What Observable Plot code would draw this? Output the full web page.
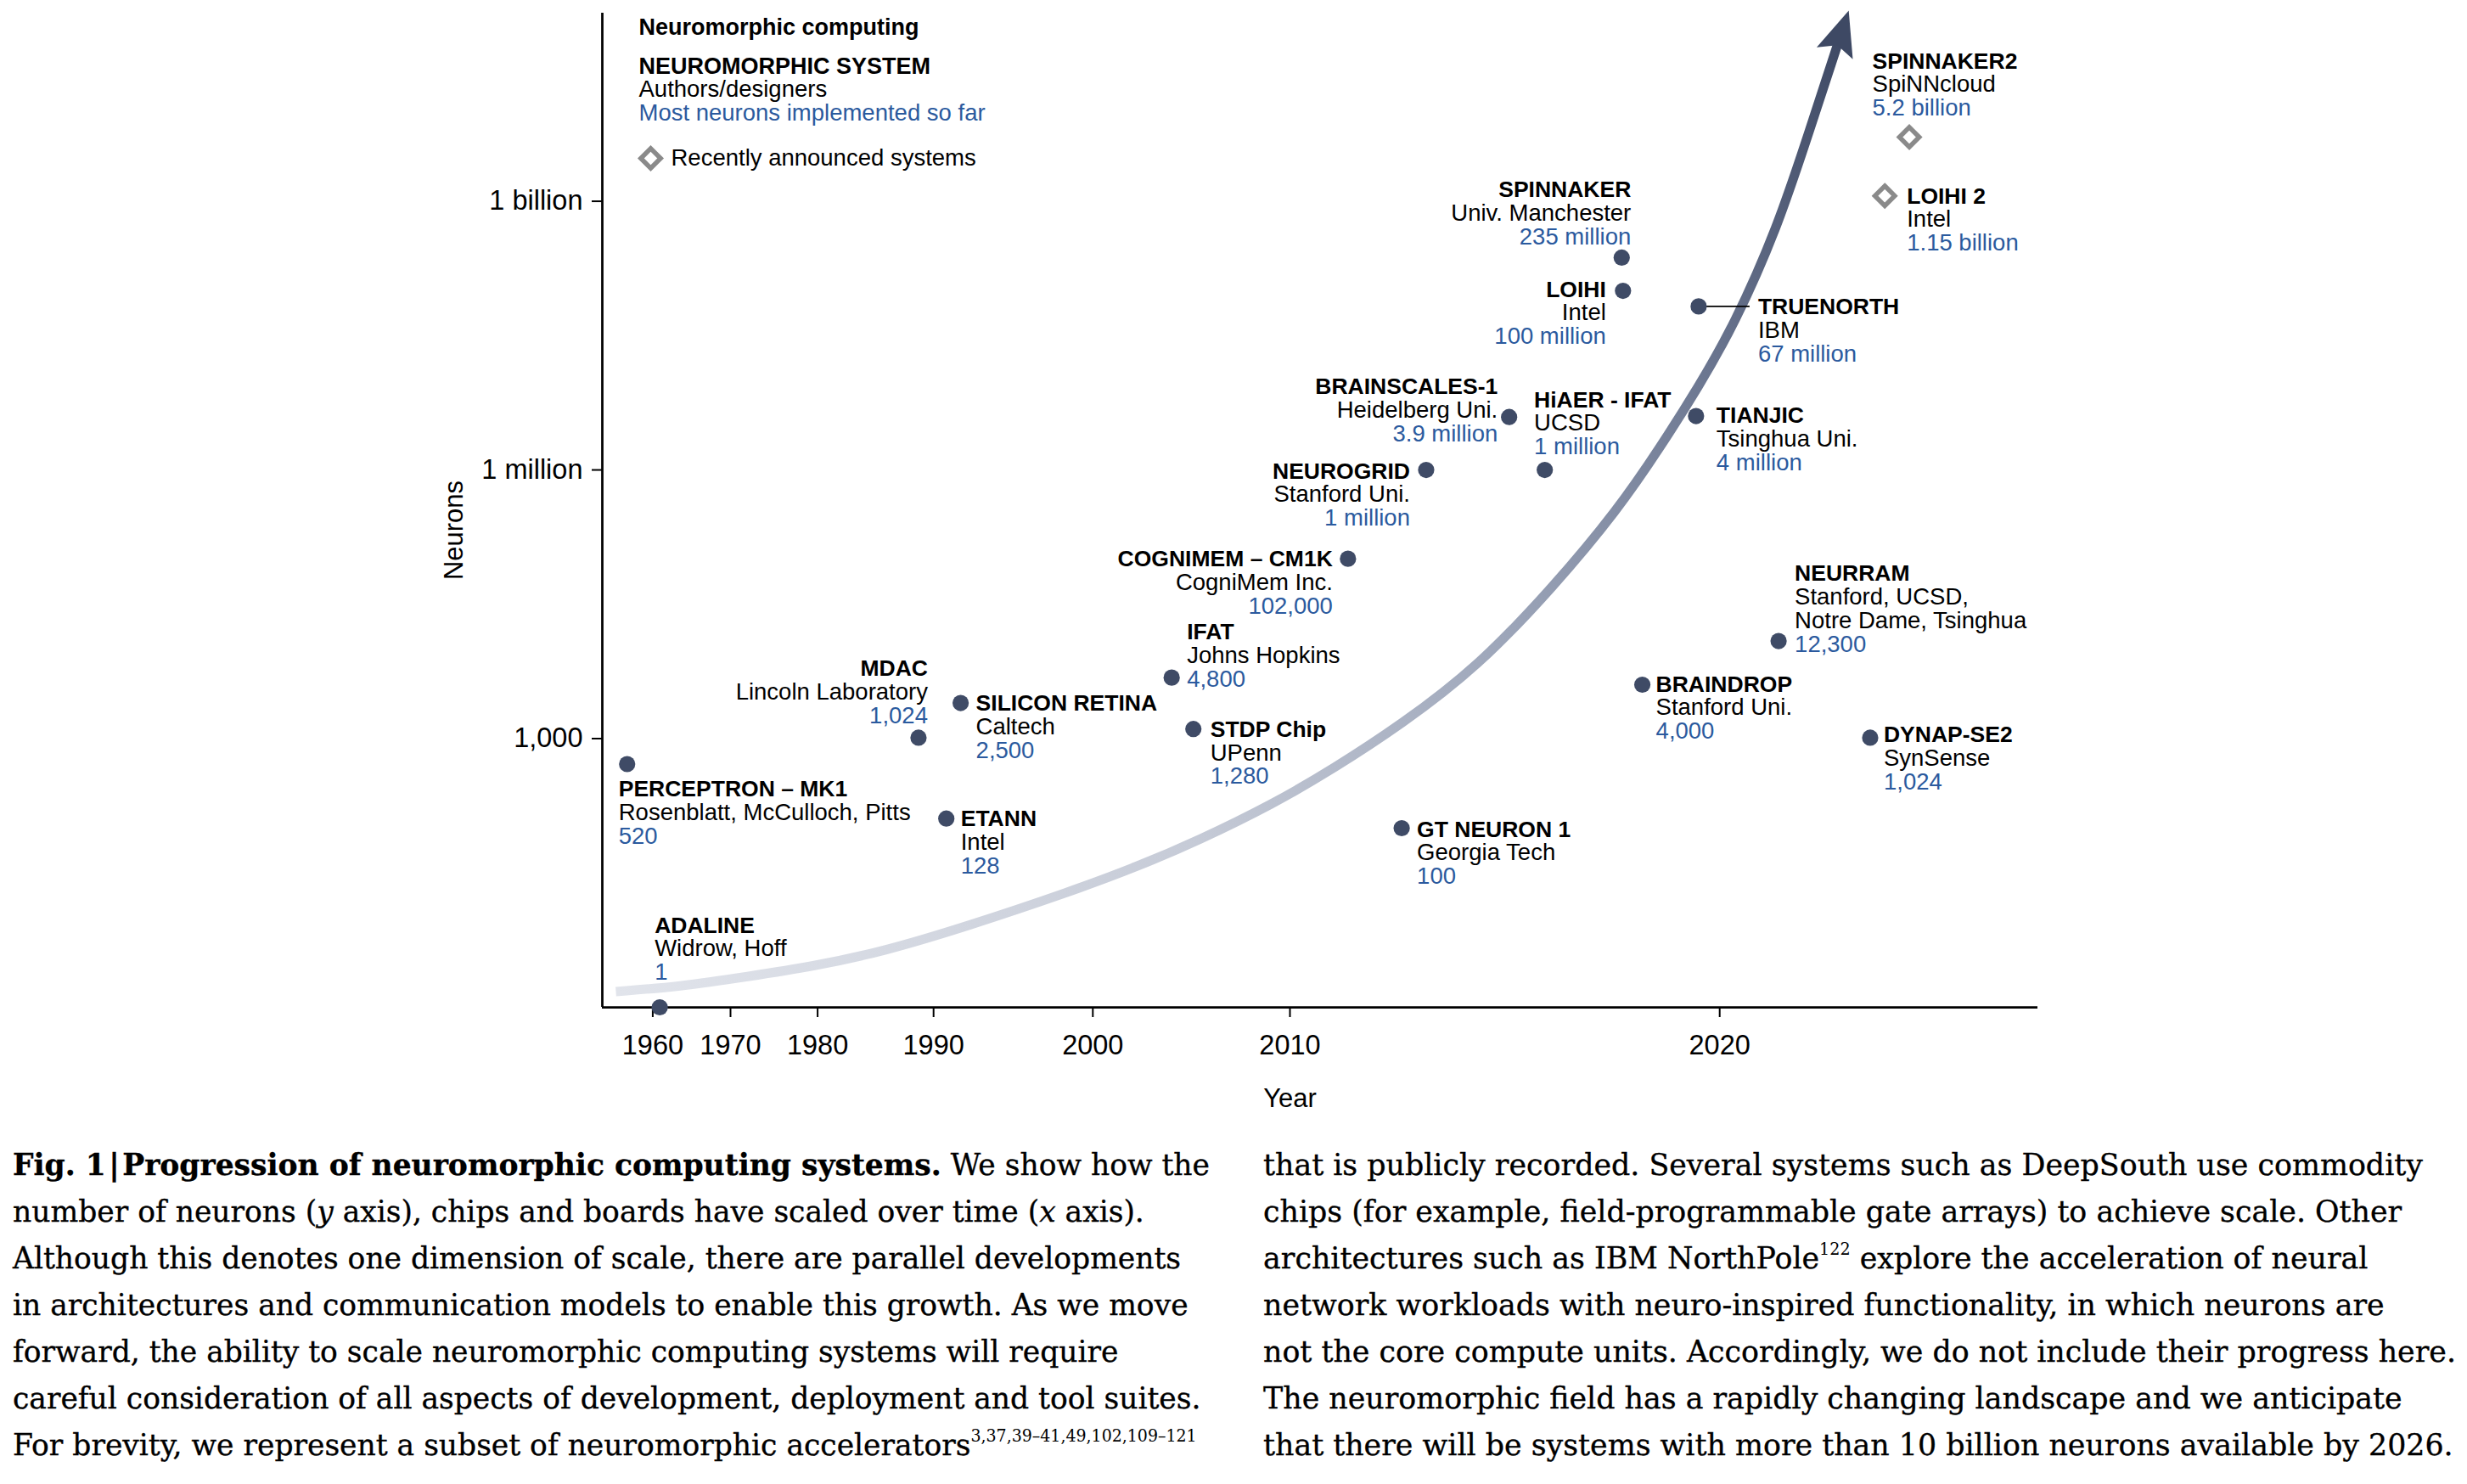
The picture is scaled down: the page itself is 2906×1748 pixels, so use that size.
<!DOCTYPE html>
<html><head><meta charset="utf-8">
<script src="https://cdn.jsdelivr.net/npm/d3@7"></script>
<script src="https://cdn.jsdelivr.net/npm/@observablehq/plot@0.6"></script>
<style>
html,body{margin:0;padding:0;background:#fff;}
#wrap{position:relative;width:2906px;height:1748px;overflow:hidden;background:#fff;}
#chart{position:absolute;left:0;top:0;}
.cap{position:absolute;top:1344px;font-family:'DejaVu Serif',serif;font-size:36px;line-height:55px;color:#000;transform-origin:0 0;-webkit-text-stroke:0.35px #000;}
.cap div{white-space:nowrap;height:55px;}
.cap span.l{display:inline-block;}
.cap sup{font-size:0.55em;line-height:0;vertical-align:0.8em;-webkit-text-stroke:0;}
</style></head>
<body>
<div id="wrap">
<div id="chart"></div>
<div class="cap" id="c1" style="left:15px">
<div><span class="l"><b>Fig. 1&#8202;|&#8202;Progression of neuromorphic computing systems.</b> We show how the</span></div>
<div><span class="l">number of neurons (<i>y</i> axis), chips and boards have scaled over time (<i>x</i> axis).</span></div>
<div><span class="l">Although this denotes one dimension of scale, there are parallel developments</span></div>
<div><span class="l">in architectures and communication models to enable this growth. As we move</span></div>
<div><span class="l">forward, the ability to scale neuromorphic computing systems will require</span></div>
<div><span class="l">careful consideration of all aspects of development, deployment and tool suites.</span></div>
<div><span class="l">For brevity, we represent a subset of neuromorphic accelerators<sup>3,37,39–41,49,102,109–121</sup></span></div>
</div>
<div class="cap" id="c2" style="left:1488px">
<div><span class="l">that is publicly recorded. Several systems such as DeepSouth use commodity</span></div>
<div><span class="l">chips (for example, field-programmable gate arrays) to achieve scale. Other</span></div>
<div><span class="l">architectures such as IBM NorthPole<sup>122</sup> explore the acceleration of neural</span></div>
<div><span class="l">network workloads with neuro-inspired functionality, in which neurons are</span></div>
<div><span class="l">not the core compute units. Accordingly, we do not include their progress here.</span></div>
<div><span class="l">The neuromorphic field has a rapidly changing landscape and we anticipate</span></div>
<div><span class="l">that there will be systems with more than 10 billion neurons available by 2026.</span></div>
</div>
</div>
<script>
// ---------------- DATA ----------------
const systems = ["PERCEPTRON – MK1", "ADALINE", "MDAC", "ETANN", "SILICON RETINA", "IFAT", "STDP Chip",
  "COGNIMEM – CM1K", "GT NEURON 1", "NEUROGRID", "BRAINSCALES-1", "HiAER - IFAT", "SPINNAKER", "LOIHI",
  "BRAINDROP", "TIANJIC", "TRUENORTH", "NEURRAM", "DYNAP-SE2", "LOIHI 2", "SPINNAKER2"];
const designers = ["Rosenblatt, McCulloch, Pitts", "Widrow, Hoff", "Lincoln Laboratory", "Intel", "Caltech",
  "Johns Hopkins", "UPenn", "CogniMem Inc.", "Georgia Tech", "Stanford Uni.", "Heidelberg Uni.", "UCSD",
  "Univ. Manchester", "Intel", "Stanford Uni.", "Tsinghua Uni.", "IBM", "Stanford, UCSD,\nNotre Dame, Tsinghua",
  "SynSense", "Intel", "SpiNNcloud"];
const years = [1956.7, 1960.9, 1988.7, 1990.8, 1991.7, 2004.0, 2005.1, 2011.35, 2012.6, 2013.17, 2015.1, 2015.93,
  2017.72, 2017.75, 2018.2, 2019.45, 2019.51, 2021.37, 2023.5, 2023.84, 2024.41];
const neurons = [520, 1, 1024, 128, 2500, 4800, 1280, 102000, 100, 1e6, 3.9e6, 1e6, 235e6, 100e6, 4000, 4e6, 67e6,
  12300, 1024, 1.15e9, 5.2e9];
const announced = [false, false, false, false, false, false, false, false, false, false, false, false, false, false,
  false, false, false, false, false, true, true];
const yearTicks = [1960, 1970, 1980, 1990, 2000, 2010, 2020];
const neuronTicks = [1e3, 1e6, 1e9];
// growth arrow
const trendYears = [1955.25, 1963.45, 1971.95, 1979.75, 1985.67, 1992.17, 1998.57, 2002.29, 2005.31, 2009.18,
  2011.01, 2012.59, 2014.37, 2016.14, 2017.63, 2018.62, 2019.51, 2020.33, 2021.34, 2022.09, 2022.82];
const trendNeurons = [1.5, 1.7, 2.2, 2.9, 4.2, 8.1, 19.5, 37.5, 72, 188, 461, 1435, 6330, 50000, 360000,
  1.8e6, 8.5e6, 4.1e7, 5.0e8, 6.2e9, 7.3e10];
const legendLines = ["Neuromorphic computing", "NEUROMORPHIC SYSTEM", "Authors/designers", "Most neurons implemented so far"];
const legendDiamond = "Recently announced systems";

// ---------------- TABLES ----------------
const rows = systems.map((name, i) => ({name, org: designers[i], year: years[i], neurons: neurons[i], announced: announced[i]}));
const trend = trendYears.map((y, i) => ({year: y, neurons: trendNeurons[i]}));
const fmt = v => v >= 1e9 ? `${+(v / 1e9).toFixed(2)} billion` : v >= 1e6 ? `${+(v / 1e6).toFixed(1)} million` : d3.format(",")(v);

// ---------------- STYLE / LAYOUT ----------------
const DOT = "#3f4b66", BLUE = "#2b5a9e", GREY = "#8a8a8a";
const FS_B = 26.5, FS = 27.5, LH = 27.8, FS_AX = 32.5;
const place = {
  "PERCEPTRON – MK1": {a: "start", dx: -10, by: 38},
  "ADALINE": {a: "start", dx: -6, by: -88},
  "MDAC": {a: "end", dx: 11, by: -72.5},
  "ETANN": {a: "start", dx: 17, by: 9},
  "SILICON RETINA": {a: "start", dx: 18, by: 9},
  "IFAT": {a: "start", dx: 18, by: -44.9},
  "STDP Chip": {a: "start", dx: 20, by: 9},
  "COGNIMEM – CM1K": {a: "end", dx: -18, by: 9},
  "GT NEURON 1": {a: "start", dx: 18, by: 10},
  "NEUROGRID": {a: "end", dx: -19, by: 10},
  "BRAINSCALES-1": {a: "end", dx: -13.4, by: -27.3},
  "HiAER - IFAT": {a: "start", dx: -12.6, by: -74},
  "SPINNAKER": {a: "end", dx: 11, by: -71.5},
  "LOIHI": {a: "end", dx: -20, by: 7},
  "BRAINDROP": {a: "start", dx: 16, by: 8},
  "TIANJIC": {a: "start", dx: 24, by: 8},
  "TRUENORTH": {a: "start", dx: 70, by: 9},
  "NEURRAM": {a: "start", dx: 19, by: -70.9},
  "DYNAP-SE2": {a: "start", dx: 16, by: 5},
  "LOIHI 2": {a: "start", dx: 26, by: 9},
  "SPINNAKER2": {a: "start", dx: -43.5, by: -81}
};

const labelMarks = rows.flatMap(r => {
  const p = place[r.name];
  const lines = [{t: r.name, w: "bold", c: "#000", f: FS_B},
    ...r.org.split("\n").map(t => ({t, w: "normal", c: "#000", f: FS})),
    {t: fmt(r.neurons), w: "normal", c: BLUE, f: FS}];
  return lines.map((ln, j) => Plot.text([r], {
    x: "year", y: "neurons", text: () => ln.t, textAnchor: p.a, lineAnchor: "middle", dx: p.dx,
    dy: p.by + j * LH - 0.32 * ln.f, fill: ln.c, fontWeight: ln.w, fontSize: ln.f
  }));
});

const leaderSymbol = {draw(ctx) { ctx.moveTo(0, 0); ctx.lineTo(60, 0); }};

const legendStyle = [
  {w: "bold", c: "#000", dy: 40}, {w: "bold", c: "#000", dy: 86},
  {w: "normal", c: "#000", dy: 113}, {w: "normal", c: BLUE, dy: 141}
];
const legendMarks = legendLines.map((t, i) => {
  const fs = legendStyle[i].w === "bold" ? FS_B + 0.5 : FS;
  return Plot.text([t], {
    frameAnchor: "top-left", text: d => d, textAnchor: "start", lineAnchor: "middle", dx: 43,
    dy: legendStyle[i].dy - 15 - 0.32 * fs, fontWeight: legendStyle[i].w, fill: legendStyle[i].c, fontSize: fs
  });
});

const plot = Plot.plot({
  width: 2906, height: 1336,
  marginLeft: 709, marginRight: 506, marginTop: 15, marginBottom: 150,
  style: {fontFamily: "'Liberation Sans', Arial, Helvetica, sans-serif", background: "white", color: "black", overflow: "visible"},
  x: {type: "linear", domain: [1953.5, ...yearTicks, 2027.4],
      range: [709, 768.4, 860, 962.6, 1099.2, 1286.8, 1519, 2025.2, 2400]},
  y: {type: "log", domain: [1, 1.26e11]},
  marks: [
    Plot.line(trend, {x: "year", y: "neurons", curve: "basis", stroke: "url(#trendGrad)",
      strokeWidth: 11, strokeLinecap: "butt"}),
    Plot.ruleX([1953.5], {stroke: "#000", strokeWidth: 2.75}),
    Plot.ruleY([1], {stroke: "#000", strokeWidth: 2.75}),
    Plot.axisX({ticks: yearTicks, tickFormat: d => String(d), tickSize: 12, tickPadding: 20,
      fontSize: FS_AX, label: null, strokeWidth: 2}),
    Plot.axisY({ticks: neuronTicks, tickFormat: fmt, tickSize: 12, tickPadding: 11,
      fontSize: FS_AX, label: null, strokeWidth: 2}),
    Plot.text(["Year"], {frameAnchor: "bottom", text: d => d, textAnchor: "middle", lineAnchor: "middle",
      dx: -35.5, dy: 117 - 0.32 * 31, fontSize: 31}),
    Plot.text(["Neurons"], {frameAnchor: "left", text: d => d, rotate: -90, textAnchor: "middle", lineAnchor: "middle",
      dx: -174, dy: 23.5, fontSize: 31}),
    Plot.dot(rows.filter(r => r.name === "TRUENORTH"), {x: "year", y: "neurons", symbol: leaderSymbol,
      fill: "none", stroke: "#000", strokeWidth: 1.6}),
    Plot.dot(rows.filter(r => !r.announced), {x: "year", y: "neurons", r: 9.6, fill: DOT}),
    Plot.dot(rows.filter(r => r.announced), {x: "year", y: "neurons", symbol: "diamond2", r: 10.5,
      stroke: GREY, strokeWidth: 5.5, fill: "white"}),
    ...labelMarks,
    ...legendMarks,
    Plot.dot([legendDiamond], {frameAnchor: "top-left", dx: 57, dy: 171, symbol: "diamond2", r: 10.5,
      stroke: GREY, strokeWidth: 5.5, fill: "white"}),
    Plot.text([legendDiamond], {frameAnchor: "top-left", text: d => d, textAnchor: "start", lineAnchor: "middle",
      dx: 81, dy: 194.4 - 15 - 0.32 * FS, fontSize: FS})
  ]
});
document.getElementById("chart").appendChild(plot);

// gradient + arrow head for the growth arrow
(function () {
  const svg = d3.select(plot);
  const defs = svg.insert("defs", ":first-child");
  const g = svg.selectAll("g").filter(function () { return this.getAttribute("stroke") === "url(#trendGrad)"; });
  const path = g.select("path").node() || svg.select('path[stroke="url(#trendGrad)"]').node();
  let p0 = {x: 725, y: 1167}, p1 = {x: 2168, y: 40};
  if (path) {
    const L = path.getTotalLength();
    p0 = path.getPointAtLength(0); p1 = path.getPointAtLength(L);
    d3.select(path).attr("marker-end", "url(#trendHead)");
  }
  const grad = defs.append("linearGradient").attr("id", "trendGrad").attr("gradientUnits", "userSpaceOnUse")
    .attr("x1", p0.x).attr("y1", p0.y).attr("x2", p1.x).attr("y2", p1.y);
  [[0, "#e1e4eb"], [0.35, "#c6cbd7"], [0.6, "#9ba4b8"], [0.8, "#6b7690"], [1, "#3e4964"]].forEach(([o, c]) =>
    grad.append("stop").attr("offset", o).attr("stop-color", c));
  const m = defs.append("marker").attr("id", "trendHead").attr("markerUnits", "userSpaceOnUse")
    .attr("orient", "auto").attr("markerWidth", 80).attr("markerHeight", 80)
    .attr("refX", 0).attr("refY", 0).style("overflow", "visible");
  m.append("path").attr("d", "M29.5,0 L-23.5,-22.4 L-13.5,0 L-23.5,22.4 Z").attr("fill", "#3e4964");
})();

// caption columns fitted to the reference column widths
[["c1", 1410], ["c2", 1405]].forEach(([id, target]) => {
  const col = document.getElementById(id);
  const w = d3.max(Array.from(col.querySelectorAll("span.l")), s => s.getBoundingClientRect().width);
  col.style.transform = `scaleX(${target / w})`;
});
</script>
</body></html>
